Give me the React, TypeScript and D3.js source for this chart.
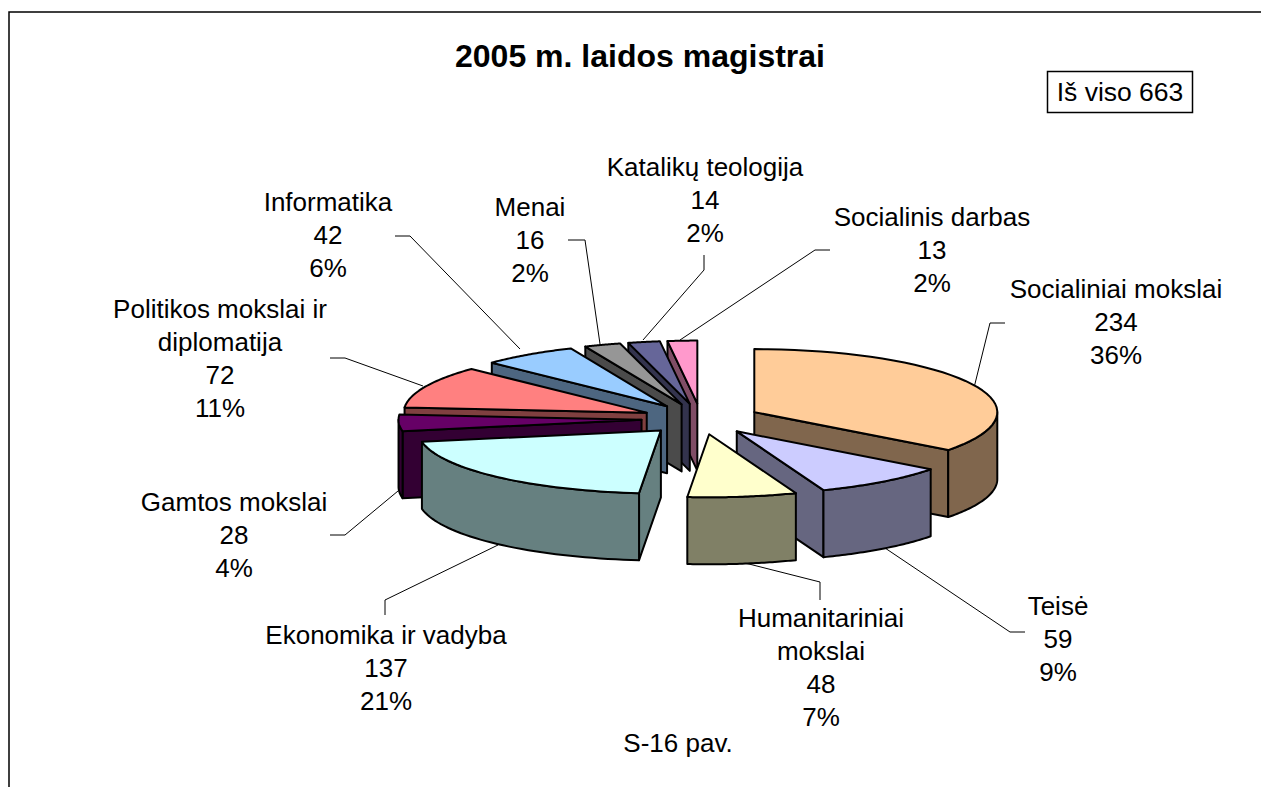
import React from "react";
import * as d3 from "d3";

const categories = ["Socialiniai mokslai","Teisė","Humanitariniai mokslai","Ekonomika ir vadyba","Gamtos mokslai","Politikos mokslai ir diplomatija","Informatika","Menai","Katalikų teologija","Socialinis darbas"];
const values = [234,59,48,137,28,72,42,16,14,13];
const percents = ["36%","9%","7%","21%","4%","11%","6%","2%","2%","2%"];
const topColors = ["#FFCC99","#CCCCFF","#FFFFCC","#CCFFFF","#660066","#FF8080","#99CCFF","#969696","#666699","#FF99CC"];
const labelLines = [["Socialiniai mokslai"],["Teisė"],["Humanitariniai","mokslai"],["Ekonomika ir vadyba"],["Gamtos mokslai"],["Politikos mokslai ir","diplomatija"],["Informatika"],["Menai"],["Katalikų teologija"],["Socialinis darbas"]];
const labelCenters: [number, number][] = [[1116,289],[1058,606],[821,618],[386,635],[234,502],[220,309],[328,202],[530,207],[705,167],[932,217]];
const leaders: [number, number][][] = [[[969,408],[990,323],[1005,323]],[[885,548],[1010,632],[1025,632]],[[745,563],[820,582],[820,600]],[[498,545],[385,600],[385,615]],[[398,491],[345,535],[330,535]],[[423,386],[345,358],[330,358]],[[520,349],[410,236],[395,236]],[[600,344],[585,240],[568,240]],[[643,340],[704,270],[704,255]],[[680,340],[815,250],[830,250]]];

const CX = 701, CY = 419, RX = 243, RY = 63, DEPTH = 67, EXPLODE = 0.245;

export default function App() {
  const pie = d3.pie<number>().sort(null).startAngle(0).endAngle(2 * Math.PI);
  const arcs = pie(values);
  const x = d3.scaleLinear().domain([-1, 1]).range([CX - RX, CX + RX]);
  const y = d3.scaleLinear().domain([-1, 1]).range([CY - RY, CY + RY]);
  const line = d3.line();
  const leaderLine = d3.line();

  const slices = arcs.map((a, i) => {
    const mid = (a.startAngle + a.endAngle) / 2;
    const ax = x(EXPLODE * Math.sin(mid)), ay = y(-EXPLODE * Math.cos(mid));
    const pt = (t: number, dz = 0): [number, number] => [ax + RX * Math.sin(t), ay - RY * Math.cos(t) + dz];
    const ring = (s: number, e: number, dz = 0) => d3.range(0, 41).map((k) => pt(s + ((e - s) * k) / 40, dz));
    const top = line([[ax, ay], ...ring(a.startAngle, a.endAngle)]) + "Z";
    const side = d3.rgb(topColors[i]);
    const wallColor = d3.rgb(side.r / 2, side.g / 2, side.b / 2).formatHex();
    const walls: string[] = [];
    if (Math.sin(a.startAngle) < 0) walls.push(line([[ax, ay], pt(a.startAngle), pt(a.startAngle, DEPTH), [ax, ay + DEPTH]]) + "Z");
    if (Math.sin(a.endAngle) > 0) walls.push(line([[ax, ay], pt(a.endAngle), pt(a.endAngle, DEPTH), [ax, ay + DEPTH]]) + "Z");
    const s = Math.max(a.startAngle, Math.PI / 2), e = Math.min(a.endAngle, (3 * Math.PI) / 2);
    if (s < e) walls.push(line([...ring(s, e), ...ring(s, e, DEPTH).reverse()]) + "Z");
    return { i, top, walls, wallColor, order: Math.cos(mid) };
  });
  const ordered = [...slices].sort((p, q) => q.order - p.order);
  const lh = 33;

  return (
    <svg width={1261} height={787} style={{ position: "absolute", left: 0, top: 0 }} fontFamily="'Liberation Sans', Arial, sans-serif">
      <rect x={0} y={0} width={1261} height={787} fill="#fff" />
      <path d="M9 787V12H1261" fill="none" stroke="#000" strokeWidth={1.5} />
      <text x={640} y={67} textAnchor="middle" fontSize={32} fontWeight={700}>2005 m. laidos magistrai</text>
      <rect x={1047.5} y={71.5} width={145} height={41} fill="#fff" stroke="#000" strokeWidth={1.5} />
      <text x={1120} y={101} textAnchor="middle" fontSize={26.5}>Iš viso 663</text>
      {leaders.map((l, i) => <path key={i} d={leaderLine(l) ?? ""} fill="none" stroke="#000" strokeWidth={1} />)}
      {ordered.map((s) => (
        <g key={s.i} stroke="#000" strokeWidth={2} strokeLinejoin="round">
          {s.walls.map((w, k) => <path key={k} d={w} fill={s.wallColor} />)}
          <path d={s.top} fill={topColors[s.i]} />
        </g>
      ))}
      {categories.map((c, i) => {
        const rows = [...labelLines[i], String(values[i]), percents[i]];
        const [lx, ly] = labelCenters[i];
        return (
          <text key={c} textAnchor="middle" fontSize={26}>
            {rows.map((r, k) => <tspan key={k} x={lx} y={ly + 9 + k * lh}>{r}</tspan>)}
          </text>
        );
      })}
      <text x={678} y={752} textAnchor="middle" fontSize={26}>S-16 pav.</text>
    </svg>
  );
}
